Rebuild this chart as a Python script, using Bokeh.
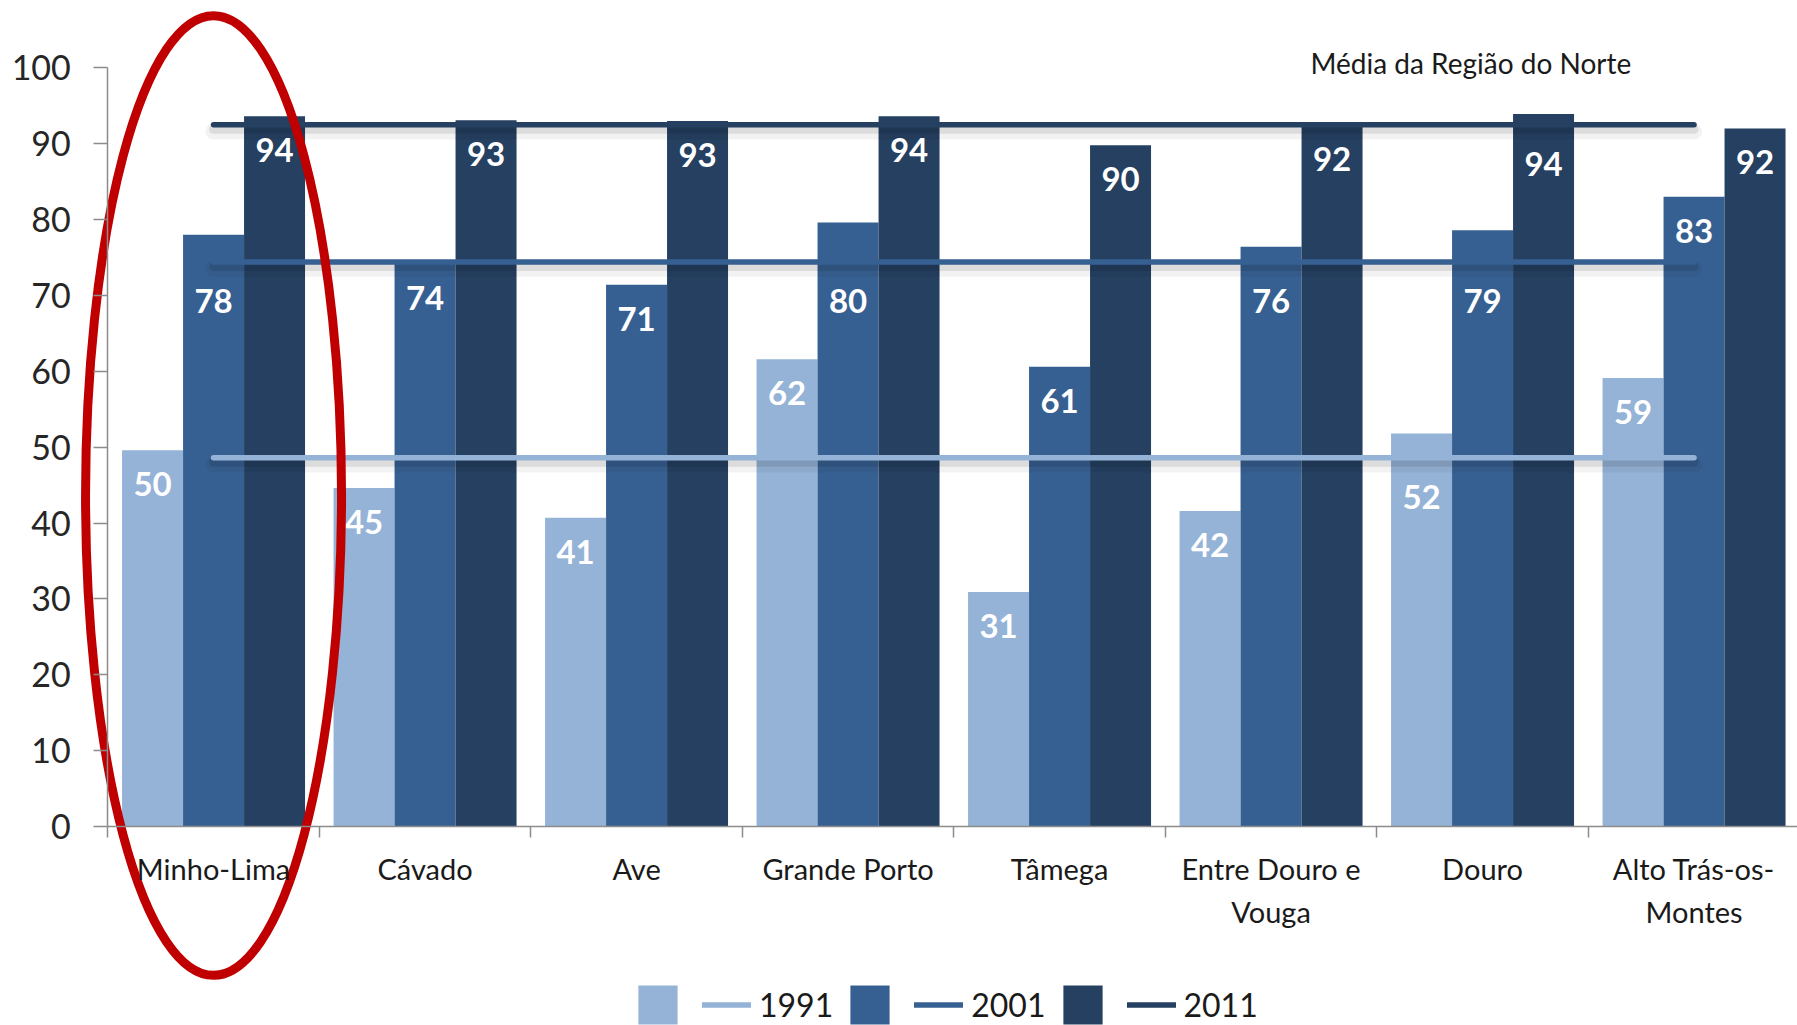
import numpy as np
from bokeh.plotting import figure
from bokeh.models import (LinearAxis, FixedTicker, Range1d, ColumnDataSource,
                          Legend, LegendItem, Label)
from bokeh.core.properties import value
from bokeh.embed import file_html
from bokeh.resources import INLINE

# ---------------- data ----------------
categories = ["Minho-Lima", "Cávado", "Ave", "Grande Porto", "Tâmega",
              "Entre Douro e\nVouga", "Douro", "Alto Trás-os-\nMontes"]
years = ["1991", "2001", "2011"]
v1991 = [49.6, 44.6, 40.7, 61.6, 30.9, 41.6, 51.8, 59.1]
v2001 = [78.0, 74.2, 71.4, 79.6, 60.6, 76.4, 78.6, 83.0]
v2011 = [93.6, 93.1, 93.0, 93.6, 89.8, 92.4, 93.9, 92.0]
media_norte = [48.6, 74.4, 92.5]          # Média da Região do Norte, per year
y_ticks = [0, 10, 20, 30, 40, 50, 60, 70, 80, 90, 100]
annotation_text = "Média da Região  do Norte"
highlighted = "Minho-Lima"

# ---------------- style / layout ----------------
colors = ["#95B3D7", "#376092", "#254061"]
W, H = 1797, 1025
x0_px, cat_px = 107.3, 211.5     # pixel of first category boundary, px per category
y0_px, unit_px = 826.0, 7.587    # pixel of value 0, px per unit
bar_w = 0.2884
FONT = "Lato"

p = figure(width=W, height=H, title=None,
           x_range=Range1d(-x0_px / cat_px, (W - x0_px) / cat_px),
           y_range=Range1d(-(H - y0_px) / unit_px, y0_px / unit_px),
           x_axis_type=None, y_axis_type=None,
           toolbar_location=None, output_backend="svg",
           min_border=0, min_border_left=0, min_border_right=0,
           min_border_top=0, min_border_bottom=0)
p.outline_line_color = None
p.background_fill_color = "white"
p.border_fill_color = "white"

centers = np.arange(len(categories)) + 0.5
series = [v1991, v2001, v2011]

bar_renderers = []
for k, (vals, col) in enumerate(zip(series, colors)):
    src = ColumnDataSource(dict(x=centers + (k - 1) * bar_w, top=vals))
    r = p.vbar(x="x", top="top", bottom=0, width=bar_w, source=src,
               fill_color=col, line_color=None)
    bar_renderers.append(r)

# mean lines with a soft shadow
line_renderers = []
xs_line = [centers[0], centers[-1]]
for m, col in zip(media_norte, colors):
    p.line(xs_line, [m - 0.9, m - 0.9], line_color="black", line_alpha=0.05,
           line_width=16, line_cap="round")
    p.line(xs_line, [m - 0.6, m - 0.6], line_color="black", line_alpha=0.09,
           line_width=9, line_cap="round")
    r = p.line(xs_line, [m, m], line_color=col, line_width=5.5, line_cap="round")
    line_renderers.append(r)

# data labels (inside end; moved below the regional mean line when they would overlap it)
for k, vals in enumerate(series):
    m = media_norte[k]
    ly = []
    for v in vals:
        default = v - 34 / unit_px
        if abs(default - m) < 24 / unit_px:
            ly.append(m - 39 / unit_px)
        else:
            ly.append(default)
    src = ColumnDataSource(dict(x=centers + (k - 1) * bar_w, y=ly,
                                t=["%d" % int(round(v)) for v in vals]))
    p.text(x="x", y="y", text="t", source=src, text_font=value(FONT),
           text_font_style="bold", text_font_size="33px", text_color="white",
           text_align="center", text_baseline="middle")

# highlight ellipse
hi = categories.index(highlighted)
p.ellipse(x=[centers[hi]], y=[(y0_px - 495) / unit_px], width=256, height=960,
          width_units="screen", height_units="screen",
          fill_color=None, line_color="#C00000", line_width=9)

# ---------------- axes ----------------
axis_gray = "#8C8C8C"
yax = LinearAxis(fixed_location=0, bounds=(0, 100),
                 ticker=FixedTicker(ticks=y_ticks, minor_ticks=[]))
yax.axis_line_color = axis_gray
yax.axis_line_width = 1.5
yax.major_tick_line_color = axis_gray
yax.major_tick_line_width = 1.5
yax.major_tick_out = 14
yax.major_tick_in = 0
yax.minor_tick_line_color = None
yax.major_label_standoff = 23
yax.major_label_text_font = FONT
yax.major_label_text_font_size = "34px"
yax.major_label_text_color = "#262626"
p.add_layout(yax, "left")

xb = LinearAxis(fixed_location=0, bounds=(0, len(categories)),
                ticker=FixedTicker(ticks=list(range(len(categories) + 1)), minor_ticks=[]))
xb.axis_line_color = axis_gray
xb.axis_line_width = 1.5
xb.major_tick_line_color = axis_gray
xb.major_tick_line_width = 1.5
xb.major_tick_out = 11
xb.major_tick_in = 0
xb.minor_tick_line_color = None
xb.major_label_text_color = None
p.add_layout(xb, "below")

xl = LinearAxis(fixed_location=0,
                ticker=FixedTicker(ticks=[float(c) for c in centers], minor_ticks=[]),
                major_label_overrides={float(c): name for c, name in zip(centers, categories)})
xl.axis_line_color = None
xl.major_tick_line_color = None
xl.minor_tick_line_color = None
xl.major_tick_out = 0
xl.major_tick_in = 0
xl.major_label_standoff = 24
xl.major_label_text_font = FONT
xl.major_label_text_font_size = "29px"
xl.major_label_text_color = "#1A1A1A"
xl.major_label_text_line_height = 1.25
p.add_layout(xl, "below")

# annotation text
p.add_layout(Label(x=1310, y=H - 62, x_units="screen", y_units="screen",
                   text=annotation_text, text_font=FONT, text_font_size="28px",
                   text_color="#1A1A1A", text_baseline="alphabetic"))

# legend
items = []
for k in range(3):
    items.append(LegendItem(label=value(""), renderers=[bar_renderers[k]]))
    items.append(LegendItem(label=value(years[k]), renderers=[line_renderers[k]]))
legend = Legend(items=items, orientation="horizontal", location=(633, -4),
                glyph_width=49, glyph_height=49, label_standoff=8, spacing=12,
                label_width=0, padding=0, margin=0, border_line_color=None,
                background_fill_alpha=0, label_text_font=FONT,
                label_text_font_size="32px", label_text_color="#1A1A1A")
p.add_layout(legend, "center")

open("out.html", "w").write(file_html(p, INLINE))
